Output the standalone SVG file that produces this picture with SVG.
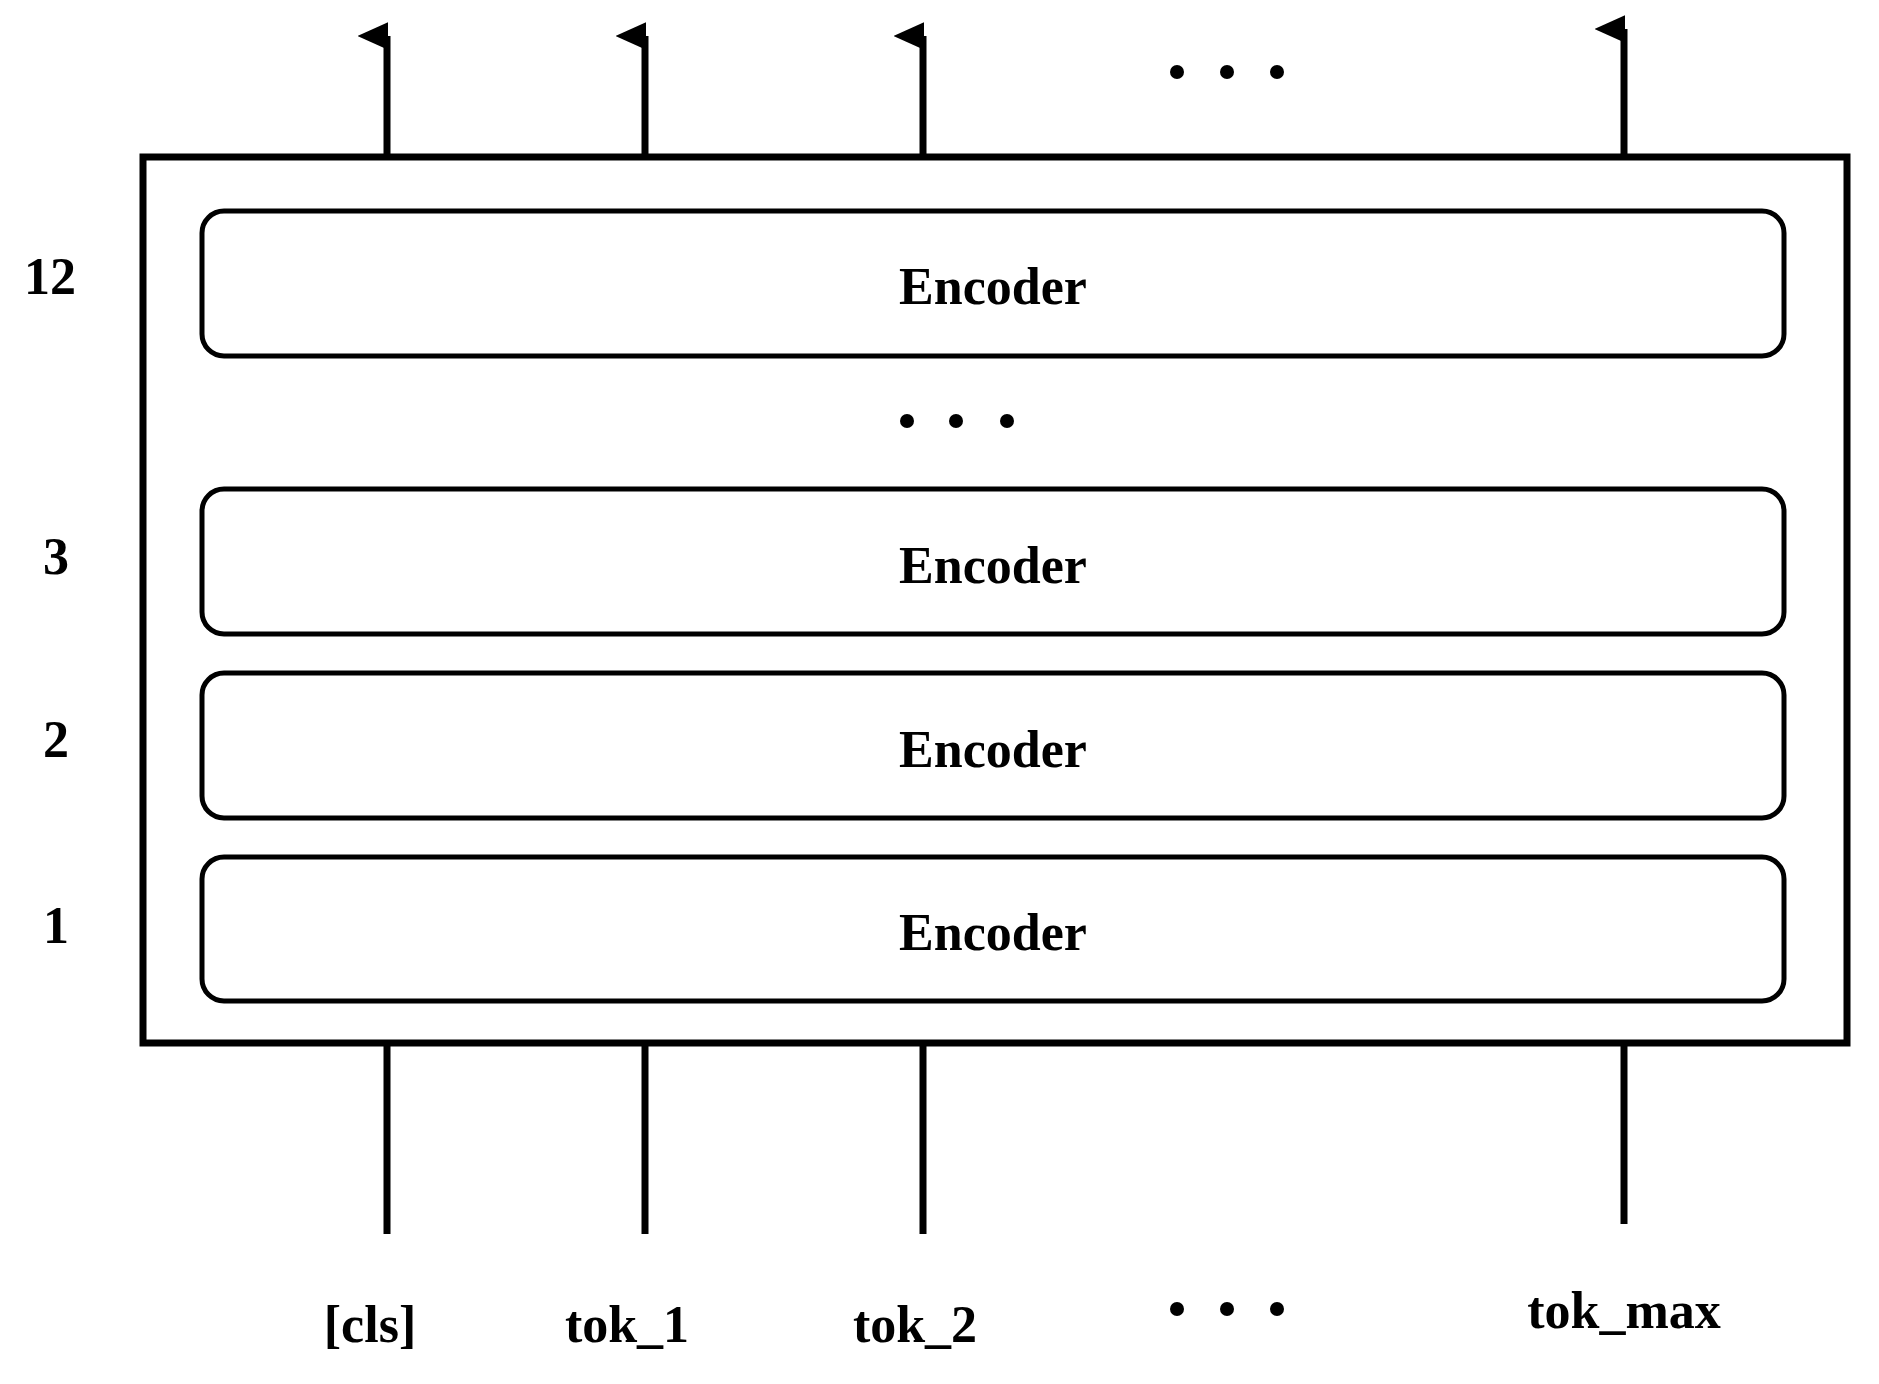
<svg xmlns="http://www.w3.org/2000/svg" width="1879" height="1384" viewBox="0 0 1879 1384">
<style>
text{font-family:"Liberation Serif","Times New Roman",serif;font-weight:bold;font-size:52px;fill:#000;text-anchor:middle}
.enc{fill:#fff;stroke:#000;stroke-width:5}
.ln{stroke:#000;stroke-width:7;fill:none}
</style>
<defs>
<marker id="ah" markerWidth="4" markerHeight="4.4" refX="2" refY="4.2" orient="auto" markerUnits="strokeWidth" viewBox="0 0 4 4.4">
<path d="M0,4.4 L2,0 L4,4.4 Z" fill="#000"/>
</marker>
</defs>
<rect width="1879" height="1384" fill="#fff"/>
<g id="container"><rect x="143" y="157" width="1704" height="886" fill="none" stroke="#000" stroke-width="7"/></g>
<g id="enc12"><rect class="enc" x="202" y="211" width="1582" height="145" rx="22"/><text x="993" y="304">Encoder</text></g>
<g id="enc3"><rect class="enc" x="202" y="489" width="1582" height="145" rx="22"/><text x="993" y="583">Encoder</text></g>
<g id="enc2"><rect class="enc" x="202" y="673" width="1582" height="145" rx="22"/><text x="993" y="767">Encoder</text></g>
<g id="enc1"><rect class="enc" x="202" y="857" width="1582" height="144" rx="22"/><text x="993" y="950">Encoder</text></g>
<g id="layers">
<text x="50" y="294">12</text><text x="56" y="574">3</text><text x="56" y="757">2</text><text x="56" y="943">1</text>
</g>
<g id="connectors">
<line class="ln" x1="387" y1="157" x2="387" y2="36" marker-end="url(#ah)"/>
<line class="ln" x1="645" y1="157" x2="645" y2="36" marker-end="url(#ah)"/>
<line class="ln" x1="923" y1="157" x2="923" y2="36" marker-end="url(#ah)"/>
<line class="ln" x1="1624" y1="157" x2="1624" y2="29" marker-end="url(#ah)"/>
<line class="ln" x1="387" y1="1043" x2="387" y2="1234"/>
<line class="ln" x1="645" y1="1043" x2="645" y2="1234"/>
<line class="ln" x1="923" y1="1043" x2="923" y2="1234"/>
<line class="ln" x1="1624" y1="1043" x2="1624" y2="1224"/>
</g>
<g id="dots" fill="#000">
<circle cx="1177" cy="72" r="7"/><circle cx="1227" cy="72" r="7"/><circle cx="1277" cy="72" r="7"/>
<circle cx="907" cy="421" r="7"/><circle cx="956" cy="421" r="7"/><circle cx="1007" cy="421" r="7"/>
<circle cx="1177" cy="1309" r="7"/><circle cx="1227" cy="1309" r="7"/><circle cx="1277" cy="1309" r="7"/>
</g>
<g id="inputs">
<text x="370" y="1342">[cls]</text><text x="627" y="1342">tok_1</text><text x="915" y="1342">tok_2</text><text x="1624" y="1328">tok_max</text>
</g>
</svg>
